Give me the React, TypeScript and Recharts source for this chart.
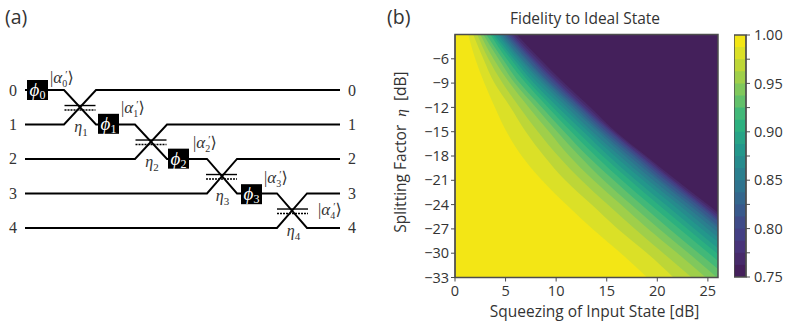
import { Area, ComposedChart, Line, ReferenceArea, ReferenceDot, XAxis, YAxis } from 'recharts'

// (b) contour edges: squeezing [dB] where each level is reached, sampled at these eta values
const etaSamples = [-3, -6, -9, -12, -15, -18, -21, -24, -27, -30, -33]
const plotEdge = [26, 26, 26, 26, 26, 26, 26, 26, 26, 26, 26]
const contour01 = [6.1, 8.4, 10.8, 13.4, 15.9, 18.9, 21.9, 25.0, 28.0, 31.0, 34.0]
const contour02 = [5.8, 8.1, 10.5, 13.1, 15.7, 18.7, 21.6, 24.7, 27.7, 30.7, 33.7]
const contour03 = [5.6, 7.8, 10.2, 12.8, 15.5, 18.4, 21.4, 24.4, 27.4, 30.4, 33.4]
const contour04 = [5.4, 7.6, 10.0, 12.6, 15.3, 18.2, 21.1, 24.2, 27.1, 30.1, 33.1]
const contour05 = [5.2, 7.4, 9.7, 12.4, 15.0, 17.9, 20.8, 23.9, 26.9, 29.8, 32.8]
const contour06 = [5.0, 7.1, 9.4, 12.1, 14.7, 17.6, 20.4, 23.5, 26.4, 29.4, 32.4]
const contour07 = [4.8, 6.9, 9.2, 11.8, 14.4, 17.2, 20.1, 23.1, 26.1, 29.0, 32.0]
const contour08 = [4.6, 6.6, 8.9, 11.5, 14.1, 16.8, 19.6, 22.6, 25.6, 28.5, 31.5]
const contour09 = [4.4, 6.4, 8.6, 11.1, 13.6, 16.3, 19.1, 22.1, 25.0, 27.9, 30.9]
const contour10 = [4.2, 6.1, 8.2, 10.7, 13.2, 15.8, 18.6, 21.5, 24.4, 27.4, 30.3]
const contour11 = [3.9, 5.8, 7.8, 10.2, 12.7, 15.2, 17.9, 20.8, 23.7, 26.6, 29.5]
const contour12 = [3.7, 5.5, 7.4, 9.7, 12.1, 14.6, 17.3, 20.1, 23.0, 25.9, 28.8]
const contour13 = [3.5, 5.1, 7.0, 9.2, 11.5, 13.9, 16.5, 19.3, 22.2, 25.1, 27.9]
const contour14 = [3.1, 4.7, 6.4, 8.6, 10.8, 13.1, 15.7, 18.4, 21.2, 24.1, 27.0]
const contour15 = [2.8, 4.3, 5.9, 8.0, 10.1, 12.3, 14.7, 17.4, 20.2, 23.1, 25.9]
const contour16 = [2.5, 3.8, 5.4, 7.3, 9.3, 11.3, 13.7, 16.4, 19.1, 22.0, 24.8]
const contour17 = [2.2, 3.3, 4.7, 6.4, 8.2, 10.2, 12.5, 15.1, 17.8, 20.6, 23.4]
const contour18 = [1.8, 2.8, 3.9, 5.5, 7.0, 8.8, 10.9, 13.5, 16.1, 19.0, 21.6]
const contour19 = [1.3, 2.0, 2.9, 3.95, 5.1, 6.6, 8.6, 11.0, 13.6, 16.4, 19.0]

const contours = [
  plotEdge, contour01, contour02, contour03, contour04, contour05, contour06, contour07, contour08, contour09,
  contour10, contour11, contour12, contour13, contour14, contour15, contour16, contour17, contour18, contour19,
]

const bandColors = [
  '#44205b', '#472a6a', '#483379', '#433f84', '#3f4b88', '#38598c', '#33668d', '#2e738e', '#2a7f8e', '#268b8d',
  '#23978b', '#27a386', '#2cb07f', '#42b878', '#62c06a', '#80c85c', '#9fcf4a', '#bdd637', '#dbe027', '#f3e615',
]
const bandTops = [
  0.7625, 0.775, 0.7875, 0.8, 0.8125, 0.825, 0.8375, 0.85, 0.8625, 0.875,
  0.8875, 0.9, 0.9125, 0.925, 0.9375, 0.95, 0.9625, 0.975, 0.9875, 1,
]
const squeezeTicks = [0, 5, 10, 15, 20, 25]
const etaTicks = [-6, -9, -12, -15, -18, -21, -24, -27, -30, -33]
const fidelityTicks = [0.75, 0.775, 0.8, 0.825, 0.85, 0.875, 0.9, 0.925, 0.95, 0.975, 1]
const labelledFidelity = [0.75, 0.8, 0.85, 0.9, 0.95, 1]

const heatRows = etaSamples.map((eta, i) => {
  const row: Record<string, number> = { eta }
  contours.forEach((c, k) => {
    row[`k${k}`] = c[i]
  })
  return row
})
const barRows = [0, 1].map((pos) => {
  const row: Record<string, number> = { pos }
  bandTops.forEach((top, k) => {
    row[`b${k}`] = top
  })
  return row
})

// (a) waveguide paths: distance along the chip, rail number
const guides = [
  [[25, 0], [64, 0], [96, 1], [135, 1], [167, 2], [207, 2], [237, 3], [277, 3], [307, 4], [340, 4]],
  [[25, 1], [64, 1], [96, 0], [340, 0]],
  [[25, 2], [135, 2], [167, 1], [340, 1]],
  [[25, 3], [207, 3], [237, 2], [340, 2]],
  [[25, 4], [277, 4], [307, 3], [340, 3]],
]
const splitters = [[80, 0.5], [151, 1.5], [221.5, 2.5], [292.5, 3.5]]
const phases = [[37.5, 0], [108.5, 0.98], [178.5, 1.99], [251.5, 3.02]]
const kets = [[50, -0.2], [121, 0.66], [193, 1.68], [264, 2.7], [318, 3.62]]
const railNumbers = [0, 1, 2, 3, 4]

const sans = '"Open Sans", "Noto Sans", sans-serif'
const serif = '"Liberation Serif", "DejaVu Serif", serif'
const ink = '#333333'
const frame = '#4d4d4d'

function PhaseText({ cx, cy, n }: any) {
  return (
    <text x={cx} y={cy + 6} textAnchor="middle" fill="#fff" fontFamily={serif} fontStyle="italic" fontSize={19}>
      ϕ<tspan fontSize={12} fontStyle="normal" dy={3}>{n}</tspan>
    </text>
  )
}

function EtaText({ cx, cy, n }: any) {
  return (
    <text x={cx} y={cy} textAnchor="middle" fill={ink} fontFamily={serif} fontStyle="italic" fontSize={16}>
      η<tspan fontSize={11} fontStyle="normal" dy={4}>{n}</tspan>
    </text>
  )
}

function KetText({ cx, cy, n }: any) {
  return (
    <text x={cx} y={cy} fill={ink} fontFamily={serif} fontSize={16}>
      |<tspan fontStyle="italic" fontSize={17}>α</tspan>
      <tspan fontSize={10} dy={4}>{n}</tspan>
      <tspan fontSize={11} dx={-2} dy={-9}>′</tspan>
      <tspan dy={5} fontFamily="DejaVu Sans">⟩</tspan>
    </text>
  )
}

function RailNumber({ cx, cy, n }: any) {
  return (
    <text x={cx} y={cy + 5.5} textAnchor="middle" fill={ink} fontFamily={serif} fontSize={16}>
      {n}
    </text>
  )
}

function Schematic() {
  return (
    <ComposedChart width={380} height={326} margin={{ top: 0, right: 0, bottom: 0, left: 0 }}>
      <XAxis type="number" dataKey="x" domain={[0, 380]} hide />
      <YAxis type="number" dataKey="y" domain={[-2.609, 6.841]} reversed hide />
      {guides.map((g, i) => (
        <Line
          key={i}
          data={g.map(([x, y]) => ({ x, y }))}
          dataKey="y"
          stroke="#000"
          strokeWidth={1.9}
          dot={false}
          activeDot={false}
          isAnimationActive={false}
        />
      ))}
      {splitters.map(([x, rail], i) => (
        <Line
          key={`solid${i}`}
          data={[{ x: x - 15.5, y: rail - 0.05 }, { x: x + 15.5, y: rail - 0.05 }]}
          dataKey="y"
          stroke="#000"
          strokeWidth={1.4}
          dot={false}
          activeDot={false}
          isAnimationActive={false}
        />
      ))}
      {splitters.map(([x, rail], i) => (
        <Line
          key={`dotted${i}`}
          data={[{ x: x - 15.5, y: rail + 0.08 }, { x: x + 15.5, y: rail + 0.08 }]}
          dataKey="y"
          stroke="#000"
          strokeWidth={1.4}
          strokeDasharray="2 1"
          dot={false}
          activeDot={false}
          isAnimationActive={false}
        />
      ))}
      {phases.map(([x, rail], i) => (
        <ReferenceArea key={`box${i}`} x1={x - 10.5} x2={x + 10.5} y1={rail - 0.29} y2={rail + 0.29} fill="#000" fillOpacity={1} stroke="none" />
      ))}
      {phases.map(([x, rail], i) => (
        <ReferenceDot key={`phi${i}`} x={x} y={rail} r={0} shape={(p: any) => <PhaseText {...p} n={i} />} />
      ))}
      {splitters.map(([x, rail], i) => (
        <ReferenceDot key={`eta${i}`} x={x + 1} y={rail + 0.72} r={0} shape={(p: any) => <EtaText {...p} n={i + 1} />} />
      ))}
      {kets.map(([x, rail], i) => (
        <ReferenceDot key={`ket${i}`} x={x} y={rail} r={0} shape={(p: any) => <KetText {...p} n={i} />} />
      ))}
      {railNumbers.map((n) => (
        <ReferenceDot key={`l${n}`} x={13} y={n} r={0} shape={(p: any) => <RailNumber {...p} n={n} />} />
      ))}
      {railNumbers.map((n) => (
        <ReferenceDot key={`r${n}`} x={352} y={n} r={0} shape={(p: any) => <RailNumber {...p} n={n} />} />
      ))}
      <text x={5} y={24} fill={ink} fontFamily={sans} fontSize={19.5}>(a)</text>
    </ComposedChart>
  )
}

function Heatmap() {
  return (
    <ComposedChart
      layout="vertical"
      width={360}
      height={326}
      data={heatRows}
      margin={{ top: 34.5, right: 22, bottom: 18.5, left: 35 }}
    >
      <XAxis
        type="number"
        domain={[0, 26]}
        ticks={squeezeTicks}
        allowDataOverflow
        height={30}
        tick={{ fill: ink, fontFamily: sans, fontSize: 14.5 }}
        tickSize={4}
        tickMargin={4}
        stroke={frame}
        label={{ value: 'Squeezing of Input State [dB]', position: 'bottom', offset: -2, dx: 8, fill: ink, fontFamily: sans, fontSize: 15.5 }}
      />
      <YAxis
        type="number"
        dataKey="eta"
        domain={[-33, -3]}
        ticks={etaTicks}
        reversed
        allowDataOverflow
        width={40}
        tick={{ fill: ink, fontFamily: sans, fontSize: 14.5 }}
        tickSize={4}
        tickMargin={2}
        stroke={frame}
        tickFormatter={(v: number) => String(v).replace('-', '\u2212')}
      />
      {contours.map((_, k) => (
        <Area
          key={k}
          dataKey={`k${k}`}
          type="monotone"
          baseValue={0}
          fill={bandColors[k]}
          fillOpacity={1}
          stroke="none"
          dot={false}
          activeDot={false}
          isAnimationActive={false}
        />
      ))}
      <ReferenceArea x1={0} x2={26} y1={-33} y2={-3} fill="none" stroke={frame} strokeWidth={1.5} />
      <text x={205} y={24} textAnchor="middle" fill={ink} fontFamily={sans} fontSize={15.5}>
        Fidelity to Ideal State
      </text>
      <text x={7} y={24} fill={ink} fontFamily={sans} fontSize={19.5}>(b)</text>
      <text transform="translate(26 152) rotate(-90)" textAnchor="middle" fill={ink} fontFamily={sans} fontSize={15.5}>
        {'Splitting Factor\u00a0\u00a0'}
        <tspan fontFamily={serif} fontStyle="italic">η</tspan>
        {'\u00a0\u00a0[dB]'}
      </text>
    </ComposedChart>
  )
}

function ColorBar() {
  return (
    <ComposedChart width={55} height={326} data={barRows} margin={{ top: 35, right: 13, bottom: 49, left: 0 }}>
      <XAxis type="number" dataKey="pos" domain={[0, 1]} hide />
      <YAxis
        orientation="right"
        type="number"
        domain={[0.75, 1]}
        ticks={fidelityTicks}
        interval={0}
        width={30}
        tick={{ fill: ink, fontFamily: sans, fontSize: 14.5 }}
        tickSize={4}
        tickMargin={4}
        stroke={frame}
        tickFormatter={(v: number) => (labelledFidelity.includes(v) ? v.toFixed(2) : '')}
      />
      {bandTops.map((_, k) => (
        <Area
          key={k}
          dataKey={`b${19 - k}`}
          baseValue={0.75}
          fill={bandColors[19 - k]}
          fillOpacity={1}
          stroke="none"
          dot={false}
          activeDot={false}
          isAnimationActive={false}
        />
      ))}
      <ReferenceArea x1={0} x2={1} y1={0.75} y2={1} fill="none" stroke={frame} strokeWidth={1.5} />
    </ComposedChart>
  )
}

export default function App() {
  return (
    <div style={{ position: 'absolute', left: 0, top: 0, width: 789, height: 326, background: '#fff', overflow: 'hidden' }}>
      <div style={{ position: 'absolute', left: 0, top: 0 }}>
        <Schematic />
      </div>
      <div style={{ position: 'absolute', left: 380, top: 0 }}>
        <Heatmap />
      </div>
      <div style={{ position: 'absolute', left: 734, top: 0 }}>
        <ColorBar />
      </div>
    </div>
  )
}
